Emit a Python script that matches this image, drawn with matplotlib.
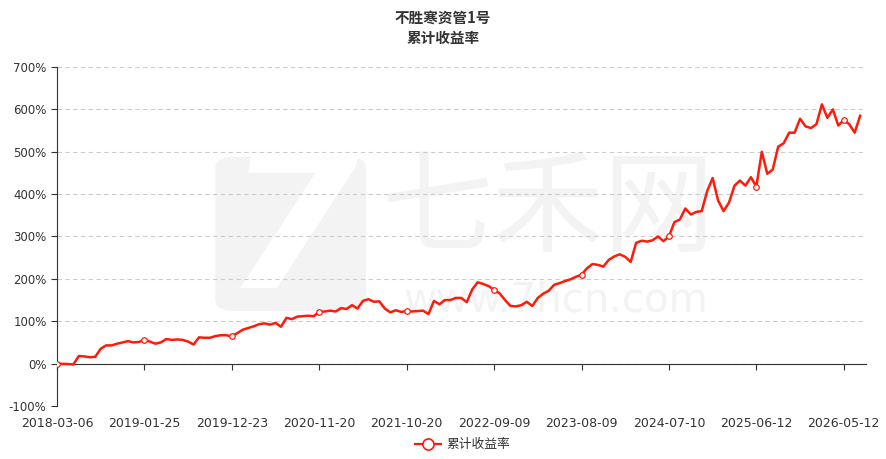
import numpy as np
import matplotlib
matplotlib.use("Agg")
import matplotlib.pyplot as plt
from matplotlib.lines import Line2D
from matplotlib.patches import FancyBboxPatch

plt.rcParams['font.family'] = ['Noto Sans CJK SC', 'DejaVu Sans']

title = "不胜寒资管1号\n累计收益率"
series_name = "累计收益率"

tick_labels = ["2018-03-06", "2019-01-25", "2019-12-23", "2020-11-20", "2021-10-20",
               "2022-09-09", "2023-08-09", "2024-07-10", "2025-06-12", "2026-05-12"]
per_label = 16  # categories between two labels

# cumulative return, %
values = [
    0, -0.5, -1, -2, 18, 17, 15, 16, 35, 43,
    43, 47, 50, 53, 50, 51, 56, 52, 47, 50,
    58, 56, 57, 56, 52, 45, 62, 61, 61, 65,
    67, 67, 64, 72, 80, 84, 88, 93, 95, 92,
    96, 87, 108, 105, 111, 112, 113, 112, 122, 123,
    125, 123, 131, 129, 138, 130, 148, 152, 146, 147,
    130, 121, 126, 122, 124, 123, 124, 125, 117, 148,
    140, 150, 150, 155, 155, 145, 175, 192, 188, 183,
    174, 166, 150, 136, 135, 138, 146, 136, 155, 165,
    172, 186, 190, 195, 199, 205, 210, 225, 235, 233,
    229, 245, 253, 258, 252, 240, 285, 290, 288, 291,
    300, 289, 300, 334, 340, 366, 352, 358, 360, 407,
    438, 385, 360, 380, 420, 432, 420, 440, 418, 500,
    448, 458, 512, 520, 545, 545, 578, 560, 556, 565,
    612, 580, 600, 562, 575, 565, 545, 585,
]

y_ticks = [-100, 0, 100, 200, 300, 400, 500, 600, 700]

red = "#ff1a0a"
wm = "#f3f3f3"
fig = plt.figure(figsize=(8.86, 4.59), dpi=100)
ax = fig.add_axes([0.0643, 0.1155, 0.9127, 0.7385])

idx = np.arange(len(values))
tick_pos = np.arange(len(tick_labels)) * per_label

# watermark (logo + site name)
logo = FancyBboxPatch((0.243, 0.322), 0.170, 0.337, boxstyle="round,pad=0,rounding_size=0.025",
                      transform=fig.transFigure, facecolor=wm, edgecolor="none", zorder=0.1)
ax.add_patch(logo)
ax.text(0.330, 0.49, "7", transform=fig.transFigure, fontsize=140, fontweight="bold",
        family="DejaVu Sans", style="italic", color="white", ha="center", va="center", zorder=0.2)
ax.text(0.607, 0.575, "七禾网", transform=ax.transAxes, fontsize=80, color=wm,
        ha="center", va="center", zorder=0.2)
ax.text(0.617, 0.31, "www.7hcn.com", transform=ax.transAxes, fontsize=29, color=wm,
        ha="center", va="center", family="DejaVu Sans", zorder=0.2)

ax.plot(idx, values, color=red, lw=1.8, zorder=3)
mk = tick_pos[tick_pos < len(values)]
ax.plot(mk, np.array(values)[mk], ls="none", marker="o", ms=4, mfc="white",
        mec=red, mew=0.9, zorder=4)

ax.set_xlim(0, 148)
ax.set_ylim(-100, 700)
ax.set_yticks(y_ticks)
ax.set_yticklabels([f"{v}%" for v in y_ticks], family="DejaVu Sans")
ax.grid(axis="y", color="#cccccc", ls=(0, (4, 3)), lw=0.8)
ax.set_axisbelow(True)

for s in ["top", "right"]:
    ax.spines[s].set_visible(False)
ax.spines["left"].set_color("#333333")
ax.spines["bottom"].set_position(("data", 0))
ax.spines["bottom"].set_color("#333333")
ax.set_xticks(tick_pos)
ax.set_xticklabels([])
ax.tick_params(axis="both", length=4, color="#333333", labelcolor="#333333", labelsize=8.5)

# date labels below the -100% line
ax2 = ax.twiny()
ax2.set_xlim(ax.get_xlim())
ax2.xaxis.set_ticks_position("bottom")
ax2.xaxis.set_label_position("bottom")
for s in ax2.spines.values():
    s.set_visible(False)
ax2.set_xticks(tick_pos)
ax2.set_xticklabels(tick_labels, family="DejaVu Sans")
ax2.tick_params(axis="x", length=0, pad=8, labelsize=9, labelcolor="#333333")

fig.suptitle(title, x=0.5, y=0.978, fontsize=10.5, fontweight="bold", color="#333333",
             linespacing=1.3)

h = Line2D([], [], color=red, lw=1.6, marker="o", ms=8, mfc="white", mec=red, mew=1.2)
fig.legend([h], [series_name], loc="center", bbox_to_anchor=(0.522, 0.031), frameon=False,
           fontsize=9.2, handlelength=2.0, handletextpad=0.45, labelcolor="#333333")

fig.savefig("out.png", dpi=100)
